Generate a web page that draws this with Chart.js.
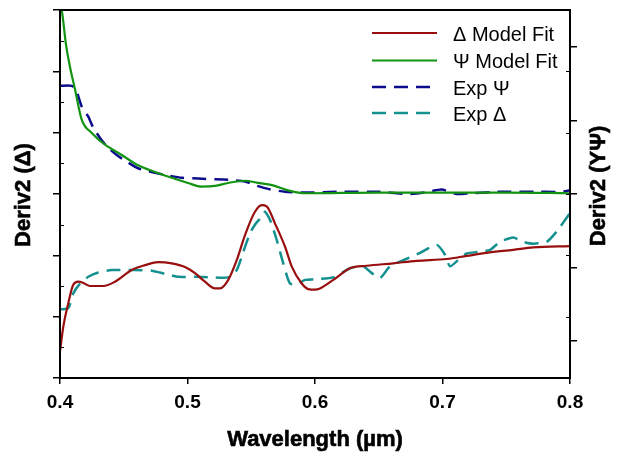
<!DOCTYPE html>
<html>
<head>
<meta charset="utf-8">
<script src="https://cdn.jsdelivr.net/npm/chart.js@4.4.1/dist/chart.umd.min.js"></script>
<style>
  html, body { margin: 0; padding: 0; background: #fff; }
</style>
</head>
<body>
<canvas id="deriv2Chart" width="620" height="461"></canvas>
<script>
// ===== Datos: segunda derivada vs longitud de onda (µm) =====
// Δ (eje izquierdo)
const deltaFitX = [0.4, 0.4026, 0.4065, 0.4104, 0.4144, 0.4183, 0.4235, 0.4340, 0.4431, 0.4562, 0.4667, 0.4771, 0.4876, 0.4980, 0.5059, 0.5137, 0.5216, 0.5255, 0.5320, 0.5386, 0.5451, 0.5529, 0.5582, 0.5621, 0.5686, 0.5765, 0.5817, 0.5896, 0.5947, 0.6, 0.6039, 0.6144, 0.6275, 0.6405, 0.6614, 0.6798, 0.7033, 0.7190, 0.7346, 0.7555, 0.7712, 0.8];
const deltaFitY = [0.43, 0.84, 1.22, 1.52, 1.57, 1.55, 1.50, 1.50, 1.57, 1.76, 1.84, 1.89, 1.87, 1.81, 1.71, 1.57, 1.46, 1.46, 1.60, 1.92, 2.33, 2.71, 2.82, 2.80, 2.52, 2.14, 1.82, 1.54, 1.45, 1.44, 1.46, 1.60, 1.79, 1.83, 1.87, 1.91, 1.94, 1.99, 2.04, 2.09, 2.13, 2.15];

const deltaExpX = [0.4, 0.4065, 0.4104, 0.4157, 0.4222, 0.4300, 0.4405, 0.4588, 0.4719, 0.4824, 0.4928, 0.5059, 0.5190, 0.5320, 0.5386, 0.5438, 0.5490, 0.5529, 0.5582, 0.5608, 0.5647, 0.5700, 0.5751, 0.5804, 0.5869, 0.5922, 0.6, 0.6144, 0.6275, 0.6379, 0.6445, 0.6510, 0.6588, 0.6693, 0.6824, 0.6955, 0.7020, 0.7059, 0.7137, 0.7190, 0.7294, 0.7373, 0.7451, 0.7555, 0.7634, 0.7712, 0.7817, 0.7896, 0.8];
const deltaExpY = [1.12, 1.14, 1.38, 1.54, 1.65, 1.72, 1.76, 1.76, 1.75, 1.70, 1.65, 1.65, 1.64, 1.64, 1.76, 2.06, 2.36, 2.50, 2.63, 2.71, 2.58, 2.25, 1.87, 1.54, 1.54, 1.60, 1.61, 1.64, 1.79, 1.82, 1.71, 1.63, 1.82, 1.92, 2.04, 2.17, 2.01, 1.82, 1.95, 2.03, 2.06, 2.09, 2.22, 2.29, 2.22, 2.19, 2.22, 2.39, 2.69];

// Ψ (eje derecho)
const psiFitX = [0.4, 0.4016, 0.4047, 0.4078, 0.4118, 0.4170, 0.4249, 0.4353, 0.4484, 0.4612, 0.4745, 0.4876, 0.5004, 0.5111, 0.5216, 0.5318, 0.5451, 0.5553, 0.5663, 0.5788, 0.5922, 0.65, 0.7, 0.75, 0.8];
const psiFitY = [4.57, 4.47, 4.03, 3.73, 3.42, 3.01, 2.83, 2.67, 2.53, 2.39, 2.30, 2.22, 2.15, 2.10, 2.11, 2.15, 2.18, 2.15, 2.12, 2.05, 2.01, 2.02, 2.02, 2.02, 2.01];

const psiExpX = [0.4, 0.4092, 0.4131, 0.4170, 0.4222, 0.4261, 0.4327, 0.4376, 0.4445, 0.4523, 0.4612, 0.4719, 0.4824, 0.4955, 0.5085, 0.5216, 0.5347, 0.5451, 0.5529, 0.5631, 0.5765, 0.5922, 0.6196, 0.6510, 0.6641, 0.6745, 0.6863, 0.6994, 0.7111, 0.7216, 0.7451, 0.7765, 0.7922, 0.8];
const psiExpY = [3.47, 3.47, 3.39, 3.19, 3.05, 2.90, 2.73, 2.63, 2.53, 2.44, 2.35, 2.30, 2.26, 2.22, 2.21, 2.20, 2.19, 2.17, 2.12, 2.07, 2.03, 2.02, 2.03, 2.03, 2.01, 2.00, 2.02, 2.06, 2.00, 2.01, 2.03, 2.03, 2.03, 2.05];

// ticks
const xTicks = [0.4, 0.5, 0.6, 0.7, 0.8];
const deltaTicks = [0, 1, 2, 3, 4, 5, 6];
const psiTicks = [0, 1, 2, 3, 4];
const deltaMinor = [0.5, 1.5, 2.5, 3.5, 4.5, 5.5];

const FONT = "'Liberation Sans', Arial, sans-serif";

function pts(xs, ys) {
  return xs.map((x, i) => ({ x: x, y: ys[i] }));
}

// texto en negrita un poco más grueso
function heavyText(ctx, txt, x, y) {
  ctx.fillText(txt, x, y);
  ctx.lineWidth = 0.6;
  ctx.strokeStyle = '#000';
  ctx.strokeText(txt, x, y);
}

// marcas menores, marco, títulos y leyenda
const decoPlugin = {
  id: 'deco',
  afterDraw(chart) {
    const { ctx, chartArea: a, scales } = chart;
    ctx.save();
    ctx.strokeStyle = '#000';
    ctx.lineWidth = 1;
    ctx.beginPath();
    deltaMinor.forEach(v => {
      const y = Math.round(scales.yDelta.getPixelForValue(v)) + 0.5;
      ctx.moveTo(a.left, y); ctx.lineTo(a.left + 4, y);
    });
    deltaTicks.slice(1, -1).forEach(v => {
      const y = Math.round(scales.yDelta.getPixelForValue(v)) + 0.5;
      ctx.moveTo(a.right - 4, y); ctx.lineTo(a.right, y);
    });
    ctx.stroke();

    ctx.lineWidth = 2;
    ctx.strokeRect(a.left, a.top, a.right - a.left, a.bottom - a.top);

    // títulos de ejes
    ctx.fillStyle = '#000';
    ctx.font = 'bold 22px ' + FONT;
    ctx.textAlign = 'center';
    ctx.textBaseline = 'middle';
    heavyText(ctx, 'Wavelength (µm)', (a.left + a.right) / 2, 440);

    ctx.save();
    ctx.translate(24, 195);
    ctx.rotate(-Math.PI / 2);
    heavyText(ctx, 'Deriv2 (Δ)', 0, 0);
    ctx.restore();

    ctx.save();
    ctx.translate(599, 186);
    ctx.rotate(-Math.PI / 2);
    heavyText(ctx, 'Deriv2 (YΨ)', 0, 0);
    ctx.restore();

    // leyenda
    const rows = [33, 60.5, 87, 113];
    ctx.font = '20px ' + FONT;
    ctx.textAlign = 'left';
    chart.data.datasets.forEach((ds, i) => {
      const y = rows[i];
      ctx.strokeStyle = ds.borderColor;
      ctx.lineWidth = ds.borderWidth;
      ctx.setLineDash(ds.borderDash || []);
      ctx.beginPath();
      ctx.moveTo(372, y);
      ctx.lineTo(ds.borderDash ? 430 : 437, y);
      ctx.stroke();
      ctx.setLineDash([]);
      ctx.fillStyle = '#000';
      ctx.fillText(ds.label, 453, y + 2);
    });
    ctx.restore();
  }
};

const tickGrid = { drawOnChartArea: false, drawTicks: true, tickLength: 7, color: '#000', lineWidth: 1.5 };

const chart = new Chart(document.getElementById('deriv2Chart').getContext('2d'), {
  type: 'line',
  data: {
    datasets: [
      { label: 'Δ Model Fit', data: pts(deltaFitX, deltaFitY), yAxisID: 'yDelta',
        borderColor: '#990f0f', borderWidth: 2.2, pointRadius: 0, cubicInterpolationMode: 'monotone' },
      { label: 'Ψ Model Fit', data: pts(psiFitX, psiFitY), yAxisID: 'yPsi',
        borderColor: '#129412', borderWidth: 2.2, pointRadius: 0, cubicInterpolationMode: 'monotone' },
      { label: 'Exp Ψ', data: pts(psiExpX, psiExpY), yAxisID: 'yPsi',
        borderColor: '#0c0c8c', borderWidth: 2.5, borderDash: [14, 8], pointRadius: 0, tension: 0.2 },
      { label: 'Exp Δ', data: pts(deltaExpX, deltaExpY), yAxisID: 'yDelta',
        borderColor: '#14918f', borderWidth: 2.5, borderDash: [14, 8], pointRadius: 0, tension: 0.2 }
    ]
  },
  options: {
    responsive: false,
    animation: false,
    devicePixelRatio: 1,
    layout: { padding: { top: 10, left: 0, right: 0, bottom: 0 } },
    plugins: { legend: { display: false }, tooltip: { enabled: false } },
    scales: {
      x: {
        type: 'linear', min: 0.4, max: 0.8,
        afterBuildTicks: s => { s.ticks = xTicks.map(v => ({ value: v })); },
        ticks: { color: '#000', padding: 7, maxRotation: 0, font: { family: FONT, size: 19, weight: 'bold' } },
        grid: Object.assign({}, tickGrid, { tickLength: 6 }),
        border: { display: false },
        afterFit: s => { s.height = 83; }
      },
      yDelta: {
        position: 'left', min: 0, max: 6,
        afterBuildTicks: s => { s.ticks = deltaTicks.map(v => ({ value: v })); },
        ticks: { display: false },
        grid: tickGrid,
        border: { display: false },
        afterFit: s => { s.width = 60; }
      },
      yPsi: {
        position: 'right', min: -0.5, max: 4.5,
        afterBuildTicks: s => { s.ticks = psiTicks.map(v => ({ value: v })); },
        ticks: { display: false },
        grid: tickGrid,
        border: { display: false },
        afterFit: s => { s.width = 50; }
      }
    }
  },
  plugins: [decoPlugin]
});
</script>
</body>
</html>
